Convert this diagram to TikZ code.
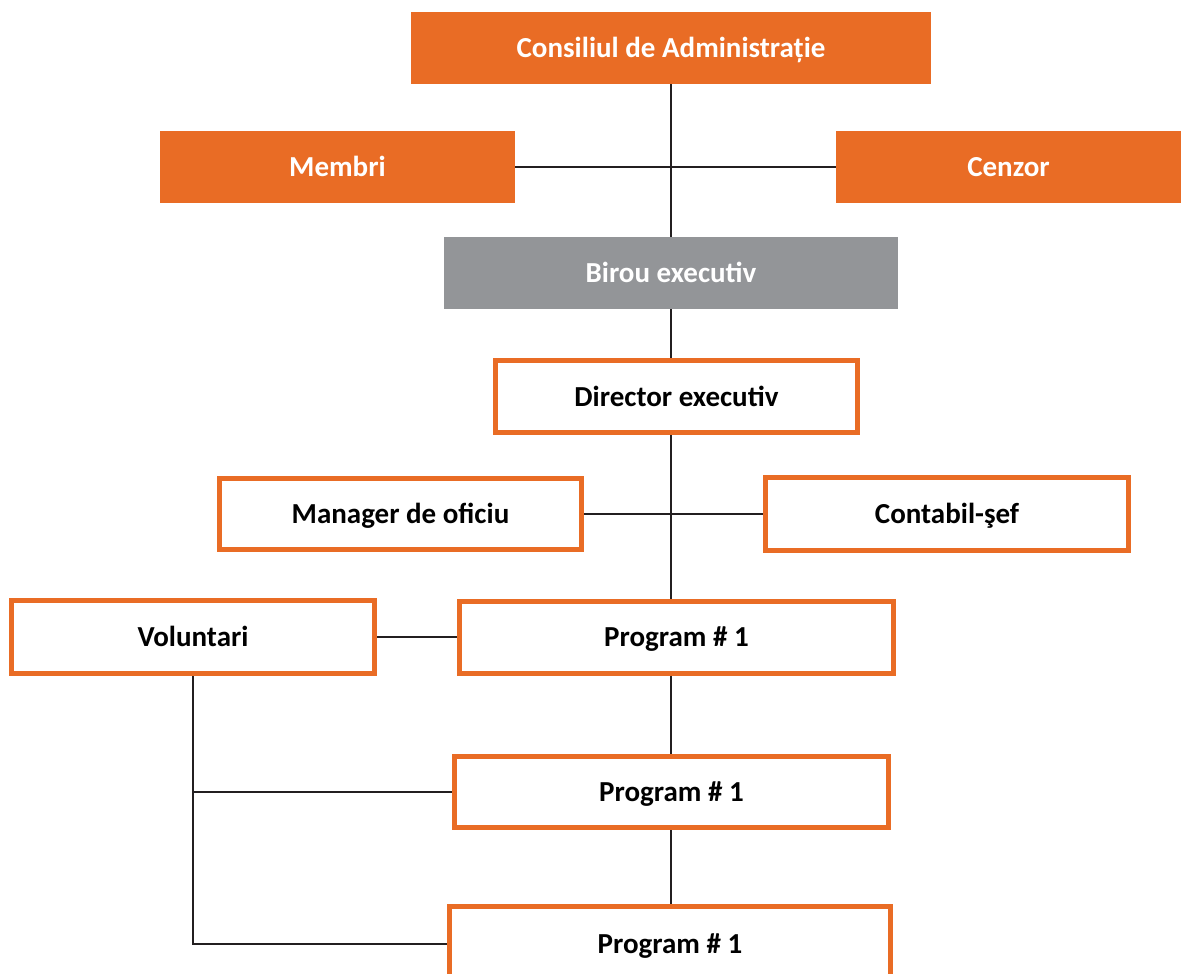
\documentclass[tikz,border=0pt]{standalone}
\usepackage{fontspec}
\setmainfont{Carlito}
\definecolor{brandorange}{HTML}{E96C25}
\definecolor{brandgray}{HTML}{939598}
\definecolor{linkline}{HTML}{231F20}
\begin{document}
\begin{tikzpicture}[x=1pt,y=-1pt,
  boxtext/.style={font=\fontsize{29}{34}\selectfont\bfseries,inner sep=0pt,text height=23.6pt,text depth=4.1pt},
  solidbox/.style={boxtext,draw=none,fill=brandorange,text=white},
  graybox/.style={solidbox,fill=brandgray},
  framebox/.style={boxtext,draw=brandorange,line width=5pt,fill=white,text=black},
  link/.style={draw=linkline,line width=1.2pt}]
\useasboundingbox (0,0) rectangle (1181,974);

% governance level
\node[solidbox,minimum width=520pt,minimum height=72pt] (cons) at (671,48) {Consiliul de Administrație};
\node[solidbox,minimum width=355pt,minimum height=72pt] (memb) at (337.5,167) {Membri};
\node[solidbox,minimum width=345pt,minimum height=72pt] (cenz) at (1008.5,167) {Cenzor};
\node[graybox,minimum width=454pt,minimum height=72pt] (birou) at (671,273) {Birou executiv};

% executive level
\node[framebox,minimum width=362pt,minimum height=72pt] (dir) at (676.5,396.5) {Director executiv};
\node[framebox,minimum width=362pt,minimum height=71pt] (mgr) at (400.5,514) {Manager de oficiu};
\node[framebox,minimum width=363pt,minimum height=73pt] (cont) at (947,514) {Contabil-şef};

% programmes and volunteers
\node[framebox,minimum width=363pt,minimum height=73pt] (vol) at (193,637) {Voluntari};
\node[framebox,minimum width=434pt,minimum height=72pt] (p1) at (676.5,637) {Program \# 1};
\node[framebox,minimum width=434pt,minimum height=71pt] (p2) at (671.5,792) {Program \# 1};
\node[framebox,minimum width=441pt,minimum height=75pt] (p3) at (670,944) {Program \# 1};

% connectors
\draw[link] (cons.south) -- (birou.north);
\draw[link] (memb.east) -- (memb.east -| cenz.west);
\draw[link] (birou.south) -- (birou.south |- dir.north);
\draw[link] (birou.south |- dir.south) -- (birou.south |- p1.north);
\draw[link] (mgr.east) -- (mgr.east -| cont.west);
\draw[link] (vol.east) -- (vol.east -| p1.west);
\draw[link] (birou.south |- p1.south) -- (birou.south |- p2.north);
\draw[link] (birou.south |- p2.south) -- (birou.south |- p3.north);
\draw[link] (vol.south) -- (vol.south |- p3.west) -- (p3.west);
\draw[link] (vol.south |- p2.west) -- (p2.west);
\end{tikzpicture}
\end{document}
